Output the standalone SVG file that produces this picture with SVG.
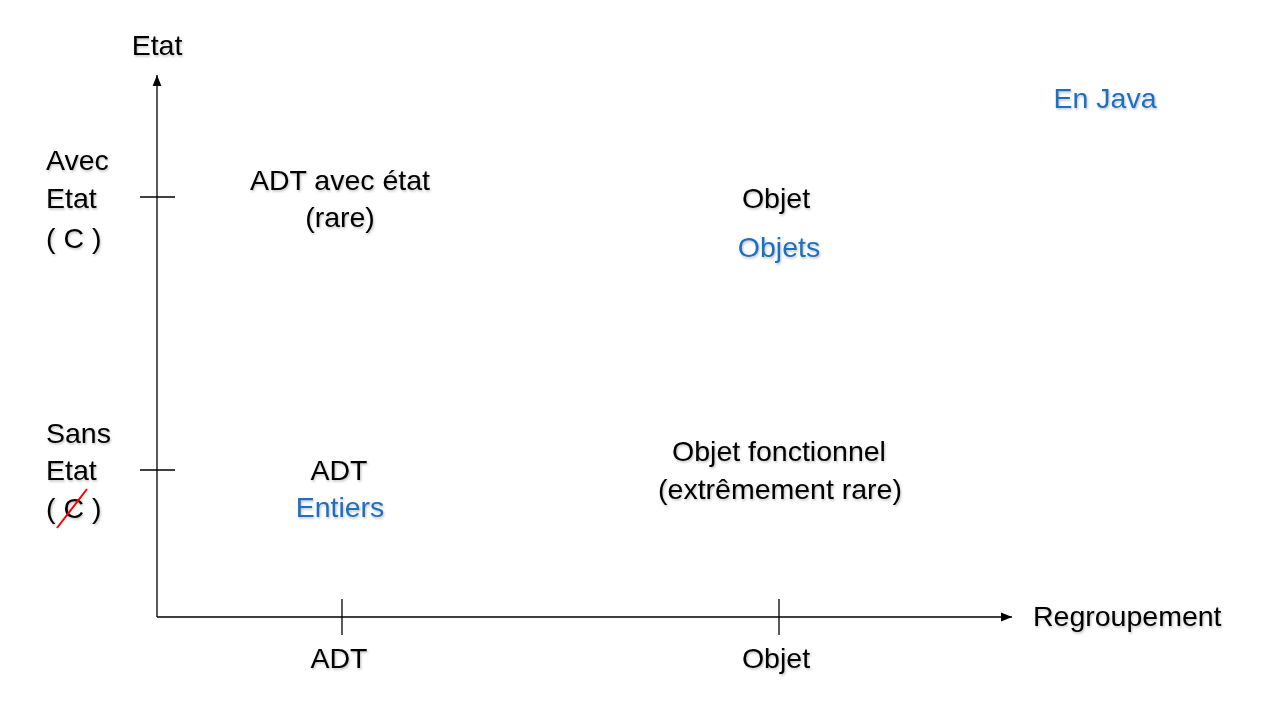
<svg xmlns="http://www.w3.org/2000/svg" width="1280" height="720" viewBox="0 0 1280 720">
  <defs>
    <marker id="arr" viewBox="0 0 10 10" refX="10" refY="5" markerWidth="11" markerHeight="11" markerUnits="userSpaceOnUse" orient="auto">
      <path d="M0,1 L10,5 L0,9 Z" fill="#000"/>
    </marker>
    <filter id="sh" x="-10%" y="-10%" width="120%" height="130%">
      <feDropShadow dx="1" dy="1.5" stdDeviation="0.8" flood-color="#000" flood-opacity="0.25"/>
    </filter>
  </defs>
  <style>
    text { font-family: "Liberation Sans", Arial, sans-serif; font-size: 28.5px; fill: #000; filter: url(#sh); }
    .c { text-anchor: middle; }
    .b { fill: #1f70c1; }
    .ax { stroke: #000; stroke-width: 1.3; fill: none; }
  </style>
  <rect width="1280" height="720" fill="#fff"/>
  <g id="connectors">
    <line class="ax" x1="157" y1="617" x2="157" y2="75" marker-end="url(#arr)"/>
    <line class="ax" x1="157" y1="617" x2="1012" y2="617" marker-end="url(#arr)"/>
    <line class="ax" x1="140" y1="197" x2="175" y2="197"/>
    <line class="ax" x1="140" y1="470" x2="175" y2="470"/>
    <line class="ax" x1="342" y1="599" x2="342" y2="635"/>
    <line class="ax" x1="779" y1="599" x2="779" y2="635"/>
  </g>
  <g id="axis-y-label"><text class="c" x="157" y="55">Etat</text></g>
  <g id="axis-x-label"><text x="1033" y="626">Regroupement</text></g>
  <g id="avec-etat">
    <text x="46" y="170">Avec</text>
    <text x="46" y="208">Etat</text>
    <text x="46" y="248">( C )</text>
  </g>
  <g id="sans-etat">
    <text x="46" y="443">Sans</text>
    <text x="46" y="480">Etat</text>
    <text x="46" y="518">( C )</text>
    <line x1="57" y1="528" x2="87" y2="489" stroke="#ff0000" stroke-width="2"/>
  </g>
  <g id="adt-avec-etat">
    <text class="c" x="340" y="190">ADT avec état</text>
    <text class="c" x="340" y="227">(rare)</text>
  </g>
  <g id="objet">
    <text class="c" x="776" y="208">Objet</text>
    <text class="c b" x="779" y="257">Objets</text>
  </g>
  <g id="adt">
    <text class="c" x="339" y="480">ADT</text>
    <text class="c b" x="340" y="517">Entiers</text>
  </g>
  <g id="objet-fonctionnel">
    <text class="c" x="779" y="461">Objet fonctionnel</text>
    <text class="c" x="780" y="499">(extrêmement rare)</text>
  </g>
  <g id="tick-labels">
    <text class="c" x="339" y="668">ADT</text>
    <text class="c" x="776" y="668">Objet</text>
  </g>
  <g id="en-java"><text class="c b" x="1105" y="108">En Java</text></g>
</svg>
